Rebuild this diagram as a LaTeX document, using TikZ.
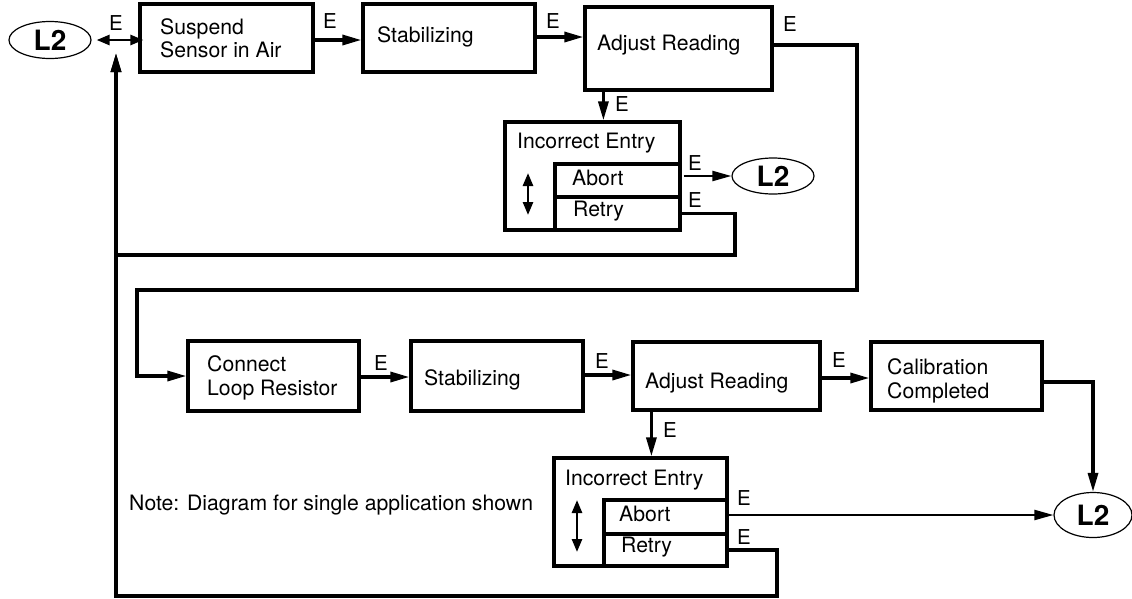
\documentclass[tikz,border=0pt]{standalone}
\usepackage{fontspec}
\setmainfont{TeX Gyre Heros}
\usetikzlibrary{arrows.meta,shapes.geometric}
\begin{document}
\begin{tikzpicture}[x=1pt,y=-1pt,
  box/.style={draw, line width=3.2pt, inner xsep=0pt, inner ysep=0pt, anchor=center},
  txt/.style={anchor=west, inner sep=0pt, align=left, font=\fontsize{21.2}{23.5}\selectfont},
  elab/.style={inner sep=0pt, font=\fontsize{20.5}{22}\selectfont},
  lnode/.style={draw, ellipse, line width=1.2pt, inner sep=0pt, font=\fontsize{28}{30}\selectfont\bfseries},
  conn/.style={line width=3.2pt, -{Triangle[length=19pt,width=10pt]}},
  thinconn/.style={line width=2.2pt, -{Triangle[length=19pt,width=10pt]}},
  dbl/.style={line width=2.6pt, {Triangle[length=13pt,width=10pt]}-{Triangle[length=13pt,width=10pt]}}
]
\useasboundingbox (0,0) rectangle (1132,598);

% ---------- top row ----------
\node[lnode, minimum width=82pt, minimum height=37pt] (L2a) at (50,40) {L2};
\node[box, minimum width=173pt, minimum height=68pt] (su) at (226.5,38) {};
\node[txt] (sut) at (160,38.5) {Suspend\\Sensor in Air};
\node[box, minimum width=172pt, minimum height=68pt] (st1) at (449,38) {};
\node[txt] (st1t) at (377,37) {Stabilizing};
\node[box, minimum width=187pt, minimum height=83pt] (ad1) at (678.5,48.5) {};
\node[txt] (ad1t) at (597,45) {Adjust Reading};

% incorrect entry (top)
\node[box, minimum width=175pt, minimum height=108pt] (ie1) at (592.5,176) {};
\node[txt] (ie1t) at (517,143) {Incorrect Entry};
\node[box, minimum width=125pt, minimum height=33pt] (ab1) at (617.5,180.5) {};
\node[txt] (ab1t) at (572,178) {Abort};
\node[box, minimum width=125pt, minimum height=33pt] (rt1) at (617.5,213.5) {};
\node[txt] (rt1t) at (573,211) {Retry};
\coordinate (da1) at (528,173);
\coordinate (db1) at (528,215);
\draw[dbl] (da1) -- (db1);
\node[lnode, minimum width=82pt, minimum height=36pt] (L2b) at (773,176) {L2};

% ---------- bottom row ----------
\node[box, minimum width=171pt, minimum height=70pt] (cr) at (273.5,376) {};
\node[txt] (crt) at (207,378) {Connect\\Loop Resistor};
\node[box, minimum width=172pt, minimum height=70pt] (st2) at (497,376) {};
\node[txt] (st2t) at (424,380) {Stabilizing};
\node[box, minimum width=187pt, minimum height=68pt] (ad2) at (726.5,376) {};
\node[txt] (ad2t) at (645,383) {Adjust Reading};
\node[box, minimum width=171pt, minimum height=68pt] (ca) at (956.5,376) {};
\node[txt] (cat) at (887,381) {Calibration\\Completed};

% incorrect entry (bottom)
\node[box, minimum width=173pt, minimum height=108pt] (ie2) at (640.5,512) {};
\node[txt] (ie2t) at (565,480) {Incorrect Entry};
\node[box, minimum width=123pt, minimum height=34pt] (ab2) at (665.5,517) {};
\node[txt] (ab2t) at (619,514) {Abort};
\node[box, minimum width=123pt, minimum height=32pt] (rt2) at (665.5,550) {};
\node[txt] (rt2t) at (621,547) {Retry};
\coordinate (da2) at (577,500);
\coordinate (db2) at (577,552);
\draw[dbl] (da2) -- (db2);
\node[lnode, minimum width=78pt, minimum height=45pt] (L2c) at (1093,515) {L2};

\node[txt] (note) at (129,505) {Note: Diagram for single application shown};

% ---------- connectors ----------
\coordinate (jn) at (116,53);
\coordinate (lk1) at (735,255);
\coordinate (lk2) at (777,596);
\coordinate (tr1) at (857,290);
\coordinate (tr2) at (137,290);
\coordinate (a1) at ([xshift=20pt]ad1.south west);
\coordinate (a2) at ([xshift=20pt]ad2.south west);

\draw[dbl] ([xshift=5pt]L2a.east) -- ([xshift=5pt]L2a.east -| su.west);
\draw[conn] (su.east |- 0,40) -- (st1.west |- 0,40);
\draw[conn] (st1.east |- 0,37) -- (ad1.west |- 0,37);
\draw[conn] (a1) -- (a1 |- ie1.north);
\draw[thinconn] ([xshift=2pt]ab1.east |- L2b.west) -- (L2b.west);
\draw[conn] (rt1.east) -| (lk1) -| (jn);
\draw[conn] (rt2.east) -| (lk2) -| (jn);
\draw[conn] (ad1.east |- 0,45) -| (tr1) -- (tr2) |- (cr.west);

\draw[conn] (cr.east |- 0,377) -- (st2.west |- 0,377);
\draw[conn] (st2.east |- 0,375) -- (ad2.west |- 0,375);
\draw[conn] (ad2.east |- 0,378) -- (ca.west |- 0,378);
\draw[conn] (ca.east |- 0,382) -| (L2c.north);
\draw[conn] (a2) -- (a2 |- ie2.north);
\draw[thinconn] (ab2.east |- L2c.west) -- (L2c.west);

% ---------- E labels ----------
\node[elab] (e1) at (116,23) {E};
\node[elab] (e2) at (330,21) {E};
\node[elab] (e3) at (553,21) {E};
\node[elab] (e4) at (790,24) {E};
\node[elab] (e5) at (622,104) {E};
\node[elab] (e6) at (695,163) {E};
\node[elab] (e7) at (695,200) {E};
\node[elab] (e8) at (381,363) {E};
\node[elab] (e9) at (602,361) {E};
\node[elab] (e10) at (839,360) {E};
\node[elab] (e11) at (670,430) {E};
\node[elab] (e12) at (744,498) {E};
\node[elab] (e13) at (744,537) {E};
\end{tikzpicture}
\end{document}
